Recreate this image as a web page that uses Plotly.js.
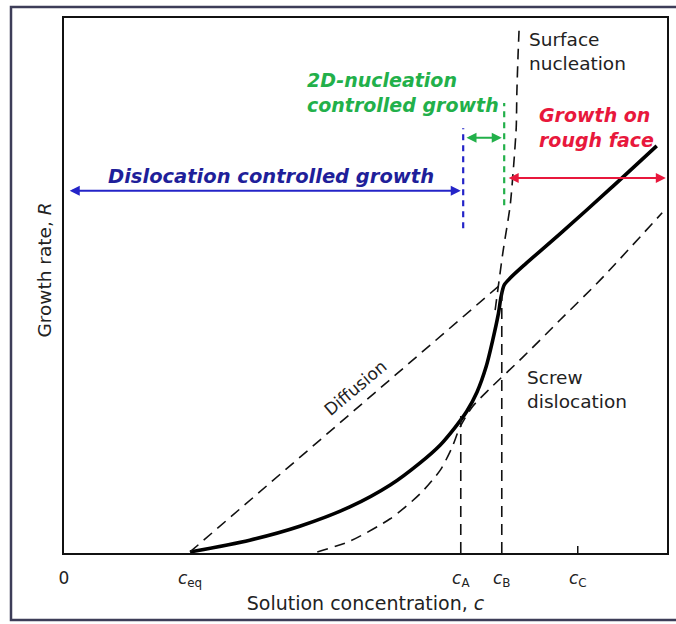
<!DOCTYPE html>
<html><head><meta charset="utf-8">
<script src="https://cdn.plot.ly/plotly-3.0.1.min.js"></script>
<style>html,body{margin:0;padding:0;background:#fff}</style>
</head><body><div id="chart" style="width:676px;height:624px"></div>
<script>
// Concentration positions (arbitrary units, 0..100)
const cEq = 20.9, cA = 65.8, cB = 72.6, cC = 85.2;
const tickVals = [0, cEq, cA, cB, cC];
const tickText = ["0", "<i>c</i><sub>eq</sub>", "<i>c</i><sub>A</sub>", "<i>c</i><sub>B</sub>", "<i>c</i><sub>C</sub>"];

// Overall growth rate (thick solid curve)
const growthX = [20.9, 30.8, 39.1, 47.4, 54.1, 59.0, 62.4, 64.8, 66.8, 68.5, 70.0, 71.1, 72.0, 72.5, 73.0, 74.0, 76.5, 82.3, 90.5, 98.3];
const growthY = [0.2, 2.4, 5.0, 8.6, 12.7, 16.8, 20.2, 23.4, 26.5, 30.1, 34.8, 39.8, 44.5, 48.0, 50.1, 51.4, 54.0, 59.7, 68.0, 76.1];

// Diffusion limit (dashed straight line)
const diffX = [20.9, 72.3];
const diffY = [0.2, 50.1];

// Screw dislocation mechanism (dashed)
const screwX = [42.0, 47.4, 54.1, 59.0, 62.4, 64.3, 65.7, 67.7, 70.6, 76.1, 82.3, 88.9, 99.2];
const screwY = [0.2, 2.2, 6.4, 11.0, 15.5, 19.6, 23.6, 27.3, 30.7, 36.6, 43.6, 51.0, 63.6];

// Surface nucleation mechanism (dashed, steep)
const surfX = [71.5, 72.8, 74.0, 74.6, 75.0, 75.1, 75.3, 75.5];
const surfY = [45.4, 56.3, 65.0, 72.9, 79.6, 86.0, 93.1, 98.7];

// Vertical guide heights at cA and cB
const guideTop = [26.4, 50.0];
// Region boundaries
const blueLineX = 66.2, blueLineY = [60.7, 79.4];
const greenLineX = 73.0, greenLineY = [65.0, 84.1];
// Region arrows [x0, x1, y]
const blueArrow = [0.7, 65.8, 67.7];
const greenArrow = [66.5, 72.6, 77.6];
const redArrow = [73.5, 99.8, 70.1];

const dash = "11px,7px";
const traces = [];
traces.push({x: growthX, y: growthY, mode: "lines", line: {color: "#000", width: 3.6, shape: "spline", smoothing: 0.8}});
traces.push({x: diffX, y: diffY, mode: "lines", line: {color: "#111", width: 1.6, dash: dash}});
traces.push({x: screwX, y: screwY, mode: "lines", line: {color: "#111", width: 1.6, dash: dash, shape: "spline", smoothing: 0.7}});
traces.push({x: surfX, y: surfY, mode: "lines", line: {color: "#111", width: 1.6, dash: dash, shape: "spline", smoothing: 0.6}});
traces.push({x: [cA, cA], y: [0, guideTop[0]], mode: "lines", line: {color: "#111", width: 1.6, dash: dash}});
traces.push({x: [cB, cB], y: [0, guideTop[1]], mode: "lines", line: {color: "#111", width: 1.6, dash: dash}});
traces.push({x: [cC, cC], y: [0, 1.3], mode: "lines", line: {color: "#111", width: 1.5}});
traces.push({x: [blueLineX, blueLineX], y: blueLineY, mode: "lines", line: {color: "#2424c8", width: 2.2, dash: "6px,5px"}});
traces.push({x: [greenLineX, greenLineX], y: greenLineY, mode: "lines", line: {color: "#22b04a", width: 2.2, dash: "6px,5px"}});

function arrow(a, color) {
  return {x: a[1], y: a[2], ax: a[0], ay: a[2], xref: "x", yref: "y", axref: "x", ayref: "y",
    text: "", showarrow: true, arrowside: "end+start", arrowhead: 2, arrowsize: 1, arrowwidth: 2, arrowcolor: color, standoff: 0, startstandoff: 0};
}
const bi = "DejaVu Sans";
const annotations = [
  arrow(blueArrow, "#2424c8"),
  arrow(greenArrow, "#22b04a"),
  arrow(redArrow, "#e8183c"),
  {x: 34.3, y: 70.3, xref: "x", yref: "y", text: "<b><i>Dislocation controlled growth</i></b>", showarrow: false, yanchor: "middle", font: {family: bi, size: 19.5, color: "#1f1f9a"}},
  {x: 40.0, y: 86.1, xref: "x", yref: "y", text: "<b><i>2D-nucleation<br>controlled growth</i></b>", showarrow: false, xanchor: "left", align: "left", font: {family: bi, size: 19, color: "#22b04a"}},
  {x: 78.4, y: 79.5, xref: "x", yref: "y", text: "<b><i>Growth on<br>rough face</i></b>", showarrow: false, xanchor: "left", align: "left", font: {family: bi, size: 19, color: "#e8183c"}},
  {x: 76.8, y: 93.8, xref: "x", yref: "y", text: "Surface<br>nucleation", showarrow: false, xanchor: "left", align: "left", font: {family: bi, size: 18.5, color: "#222"}},
  {x: 76.5, y: 30.6, xref: "x", yref: "y", text: "Screw<br>dislocation", showarrow: false, xanchor: "left", align: "left", font: {family: bi, size: 18.5, color: "#222"}},
  {x: 48.3, y: 30.8, xref: "x", yref: "y", text: "Diffusion", showarrow: false, textangle: -40, font: {family: bi, size: 17, color: "#222"}},
  {x: -0.053, y: 0.529, xref: "paper", yref: "paper", text: "Growth rate, <i>R</i>", showarrow: false, textangle: -90, font: {family: bi, size: 18.5, color: "#222"}}
];

const layout = {
  width: 676, height: 624,
  margin: {l: 64, r: 9, t: 18, b: 71},
  paper_bgcolor: "#fff", plot_bgcolor: "#fff",
  showlegend: false,
  xaxis: {range: [0, 100], tickvals: tickVals, ticktext: tickText, ticks: "outside", ticklen: 8, tickcolor: "rgba(0,0,0,0)",
    tickfont: {family: bi, size: 17, color: "#222"},
    showline: true, mirror: true, linewidth: 2.2, linecolor: "#111", showgrid: false, zeroline: false,
    title: {text: "Solution concentration, <i>c</i>", font: {family: bi, size: 19, color: "#222"}, standoff: 8}},
  yaxis: {range: [0, 100], showticklabels: false, ticks: "", showline: true, mirror: true, linewidth: 2.2, linecolor: "#111", showgrid: false, zeroline: false},
  annotations: annotations,
  shapes: [{type: "rect", xref: "paper", yref: "paper", x0: -0.0879, x1: 1.03, y0: -0.1252, y1: 1.0206, line: {color: "#3d3d58", width: 2.5}}]
};
Plotly.newPlot("chart", traces, layout, {staticPlot: true, displayModeBar: false});
</script></body></html>
